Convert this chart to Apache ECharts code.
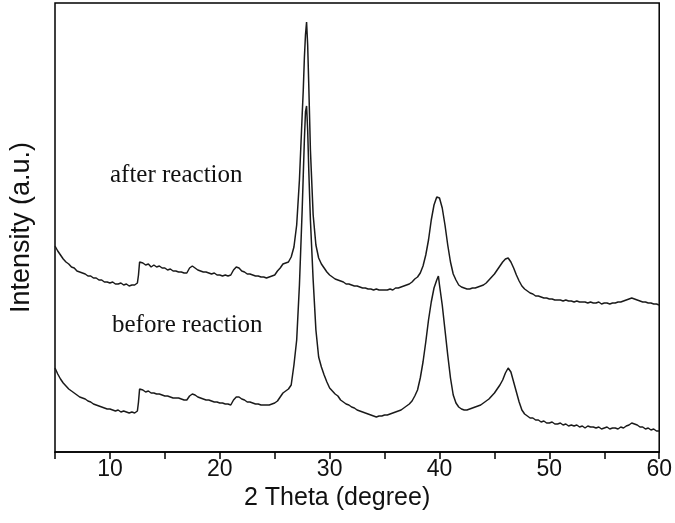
<!DOCTYPE html>
<html>
<head>
<meta charset="utf-8">
<script src="https://cdn.jsdelivr.net/npm/echarts@6/dist/echarts.min.js"></script>
<style>html,body{margin:0;padding:0;background:#fff}#c{width:675px;height:523px}</style>
</head>
<body>
<div id="c"></div>
<script>
const twoTheta = [
 5,5.25,5.5,5.75, 6,6.25,6.5,6.75, 7,7.25,7.5,7.75, 8,8.25,8.5,8.75, 9,9.25,9.5,9.75,
 10,10.25,10.5,10.75, 11,11.25,11.5,11.75, 12,12.25,12.5,12.6,12.7,12.75,
 13,13.25,13.5,13.75, 14,14.25,14.5,14.75, 15,15.25,15.5,15.75, 16,16.25,16.5,16.75,
 17,17.25,17.5,17.75, 18,18.25,18.5,18.75, 19,19.25,19.5,19.75, 20,20.25,20.5,20.75,
 21,21.25,21.5,21.75, 22,22.25,22.5,22.75, 23,23.25,23.5,23.75, 24,24.25,24.5,24.75,
 25,25.25,25.5,25.75, 26,26.25,26.5,26.75, 27,27.25,27.5,27.6,27.7,27.8,27.9,
 28,28.1,28.25,28.5,28.75, 29,29.25,29.5,29.75, 30,30.25,30.5,30.75, 31,31.25,31.5,31.75,
 32,32.25,32.5,32.75, 33,33.25,33.5,33.75, 34,34.25,34.5,34.75, 35,35.25,35.5,35.75,
 36,36.25,36.5,36.75, 37,37.25,37.5,37.75, 38,38.25,38.5,38.75, 39,39.25,39.5,39.75,39.9,
 40,40.25,40.5,40.75, 41,41.25,41.5,41.75, 42,42.25,42.5,42.75, 43,43.25,43.5,43.75,
 44,44.25,44.5,44.75, 45,45.25,45.5,45.75, 46,46.25,46.5,46.75, 47,47.25,47.5,47.75,
 48,48.25,48.5,48.75, 49,49.25,49.5,49.75, 50,50.25,50.5,50.75, 51,51.25,51.5,51.75,
 52,52.25,52.5,52.75, 53,53.25,53.5,53.75, 54,54.25,54.5,54.75, 55,55.25,55.5,55.75,
 56,56.25,56.5,56.75, 57,57.25,57.5,57.75, 58,58.25,58.5,58.75, 59,59.25,59.5,59.75, 60
];
const afterReaction = [
 206,201,197,193, 190,188,185,184, 181,180,179,178, 176,176,174,174, 172,172,170,170,
 169,170,168,168, 169,167,168,166, 167,167,169,177,190,191,
 189,187,188,185, 187,185,186,184, 184,182,183,181, 181,180,180,179,
 179,184,186,184, 182,181,180,180, 179,178,179,177, 177,176,177,176,
 177,182,185,184, 181,180,178,178, 177,176,176,175, 175,174,175,176,
 177,181,184,188, 189,190,195,205, 227,272,337,362,394,417,430,
 407,367,302,237,207, 194,188,184,180, 177,175,173,172, 171,170,168,168,
 167,166,166,165, 164,164,163,163, 162,163,162,162, 162,162,163,162,
 164,164,165,166, 167,168,170,173, 175,179,186,197, 212,232,247,255,257,
 254,244,227,207, 190,178,172,167, 165,164,163,163, 164,164,165,166,
 167,169,172,175, 178,182,186,190, 193,194,190,184, 177,171,166,163,
 161,159,158,156, 156,155,154,154, 153,153,152,152, 152,151,152,151,
 151,150,151,150, 150,150,149,150, 149,149,150,148, 149,149,148,149,
 149,150,150,151, 152,153,154,153, 152,151,150,150, 149,149,148,148, 147
];
const beforeReaction = [
 84,78,73,69, 66,63,61,59, 57,55,54,53, 51,50,48,47, 46,45,44,43,
 43,42,41,42, 40,41,40,39, 40,39,41,50,63,64,
 62,60,61,59, 59,58,58,57, 56,56,55,54, 54,54,53,52,
 52,56,58,57, 55,54,53,52, 52,51,50,50, 49,49,48,48,
 47,52,55,55, 53,52,50,50, 49,48,48,47, 47,47,47,48,
 49,51,55,59, 61,63,67,87, 112,167,242,277,312,340,346,
 322,282,232,172,122, 95,85,77,70, 64,61,58,56, 52,50,48,47,
 45,44,42,41, 40,39,38,37, 36,35,36,36, 37,37,38,39,
 40,41,42,44, 46,48,51,56, 62,74,90,110, 132,150,164,172,176,
 167,147,122,97, 74,57,49,45, 43,42,42,43, 44,45,46,47,
 49,51,53,56, 59,63,67,72, 79,84,80,70, 60,50,42,38,
 36,34,34,32, 32,30,31,29, 29,30,28,28, 29,27,28,26,
 27,26,27,25, 26,24,26,25, 25,24,25,23, 24,25,23,24,
 24,23,25,24, 26,27,29,28, 27,25,25,23, 24,22,23,21, 21
];
const xTicks = [10, 20, 30, 40, 50, 60];
const labelsText = ['after reaction', 'before reaction'];

const chart = echarts.init(document.getElementById('c'), null, {renderer: 'canvas'});
const sans = '"Liberation Sans", Arial, sans-serif';
const serif = '"Liberation Serif", "Times New Roman", serif';
chart.setOption({
  animation: false,
  backgroundColor: '#fff',
  grid: {left: 53, right: 15, top: 3, bottom: 71, show: true, borderColor: '#000', borderWidth: 1.5, backgroundColor: 'transparent'},
  xAxis: {
    type: 'value', min: 5, max: 60, interval: 5,
    axisLine: {show: true, lineStyle: {color: '#000', width: 1.5}},
    axisTick: {show: true, length: 7, lineStyle: {color: '#000', width: 1.5}},
    axisLabel: {color: '#111', fontSize: 23, fontFamily: sans, margin: 6,
      formatter: v => xTicks.includes(v) ? String(v) : ''},
    splitLine: {show: false},
    name: '2 Theta (degree)', nameLocation: 'middle', nameGap: 33,
    nameTextStyle: {color: '#111', fontSize: 25, fontFamily: sans, padding: [0, 40, 0, 0]}
  },
  yAxis: {
    type: 'value', min: 0, max: 449,
    axisLine: {show: false}, axisTick: {show: false}, axisLabel: {show: false},
    splitLine: {show: false},
    name: 'Intensity (a.u.)', nameLocation: 'middle', nameGap: 20,
    nameTextStyle: {color: '#111', fontSize: 27, fontFamily: sans}
  },
  graphic: [
    {type: 'text', left: 110, top: 163, style: {text: labelsText[0], font: '25px ' + serif, fill: '#111'}},
    {type: 'text', left: 112, top: 313, style: {text: labelsText[1], font: '25px ' + serif, fill: '#111'}}
  ],
  series: [
    {type: 'line', showSymbol: false, data: twoTheta.map((x, i) => [x, afterReaction[i]]),
     lineStyle: {color: '#1a1a1a', width: 1.5}},
    {type: 'line', showSymbol: false, data: twoTheta.map((x, i) => [x, beforeReaction[i]]),
     lineStyle: {color: '#1a1a1a', width: 1.5}}
  ]
});
</script>
</body>
</html>
